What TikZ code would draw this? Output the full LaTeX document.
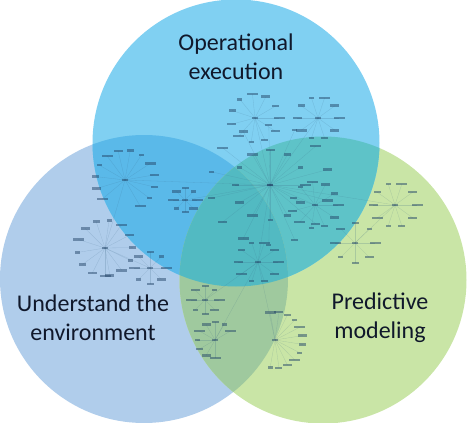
\documentclass[tikz,border=0pt]{standalone}
\usepackage{fontspec}
\setmainfont{Carlito}
\definecolor{cT}{HTML}{80D0F2}
\definecolor{cL}{HTML}{B0CDEB}
\definecolor{cR}{HTML}{C9E5A6}
\definecolor{cTL}{HTML}{5AB9E9}
\definecolor{cTR}{HTML}{5EC3C8}
\definecolor{cLR}{HTML}{9FC99E}
\definecolor{cTLR}{HTML}{52BAC2}
\definecolor{netdash}{HTML}{25476A}
\definecolor{netline}{HTML}{3A6686}
\definecolor{txt}{HTML}{10182B}
\tikzset{
  label text/.style={font=\fontsize{24}{29}\selectfont, text=txt, align=center, inner sep=0pt},
  netlink/.style={draw=netline, line width=0.3pt, opacity=0.22},
  netbar/.style={fill=netdash, opacity=0.5}
}
\newcommand\netcluster[6]{%
  \foreach \k in {1,...,#4}{%
    \pgfmathsetmacro\ang{#5+(#6-#5)*(\k-1)/(#4-1)}%
    \pgfmathsetmacro\hw{2.5+mod(\k*7,4)}%
    \draw[netlink] (#1,#2) -- ([shift={(\ang:#3)}]#1,#2);
    \fill[netbar] ([shift={(\ang:#3)}]#1-\hw,#2-1.2) rectangle ([shift={(\ang:#3)}]#1+\hw,#2+1.2);
  }%
  \fill[netbar] (#1-3,#2-1.2) rectangle (#1+3,#2+1.2);
}
\begin{document}
\begin{tikzpicture}[x=1pt,y=-1pt]
\useasboundingbox (0,0) rectangle (467,423);
\coordinate (cTop) at (236,143);
\coordinate (cLeft) at (144,279);
\coordinate (cRight) at (323,280);
\def\circT{(cTop) circle[radius=143.5]}
\def\circL{(cLeft) circle[radius=144]}
\def\circR{(cRight) circle[radius=143.5]}
% single regions
\fill[cL] \circL;
\fill[cR] \circR;
\fill[cT] \circT;
% pairwise overlaps
\begin{scope}\clip \circT; \fill[cTL] \circL; \end{scope}
\begin{scope}\clip \circT; \fill[cTR] \circR; \end{scope}
\begin{scope}\clip \circL; \fill[cLR] \circR; \end{scope}
\begin{scope}\clip \circT; \clip \circL; \fill[cTLR] \circR; \end{scope}
% faint network graph
\draw[netlink] (270,185) -- (255,118);
\draw[netlink] (270,185) -- (318,118);
\draw[netlink] (270,185) -- (125,180);
\draw[netlink] (270,185) -- (315,205);
\draw[netlink] (270,185) -- (258,262);
\draw[netlink] (270,185) -- (395,205);
\draw[netlink] (270,185) -- (185,200);
\draw[netlink] (258,262) -- (275,340);
\draw[netlink] (258,262) -- (215,340);
\draw[netlink] (258,262) -- (205,300);
\draw[netlink] (125,180) -- (105,248);
\draw[netlink] (105,248) -- (150,268);
\draw[netlink] (395,205) -- (355,243);
\netcluster{270}{185}{35}{12}{0}{330}
\netcluster{270}{185}{60}{14}{15}{345}
\netcluster{255}{118}{24}{11}{0}{330}
\netcluster{318}{118}{21}{10}{0}{324}
\netcluster{125}{180}{30}{13}{140}{420}
\netcluster{105}{248}{28}{14}{90}{440}
\netcluster{150}{268}{16}{8}{0}{315}
\netcluster{185}{200}{12}{8}{0}{315}
\netcluster{315}{205}{23}{11}{0}{330}
\netcluster{395}{205}{22}{10}{0}{324}
\netcluster{355}{243}{20}{8}{0}{315}
\netcluster{258}{262}{20}{10}{0}{324}
\netcluster{205}{300}{14}{8}{0}{315}
\netcluster{275}{340}{28}{12}{-100}{100}
\netcluster{215}{340}{18}{9}{90}{330}
% labels
\node[label text] (opex) at (236,57) {Operational\\execution};
\node[label text] (under) at (93,318) {Understand the\\environment};
\node[label text] (pred) at (380,318) {Predictive\\modeling};
\end{tikzpicture}
\end{document}
